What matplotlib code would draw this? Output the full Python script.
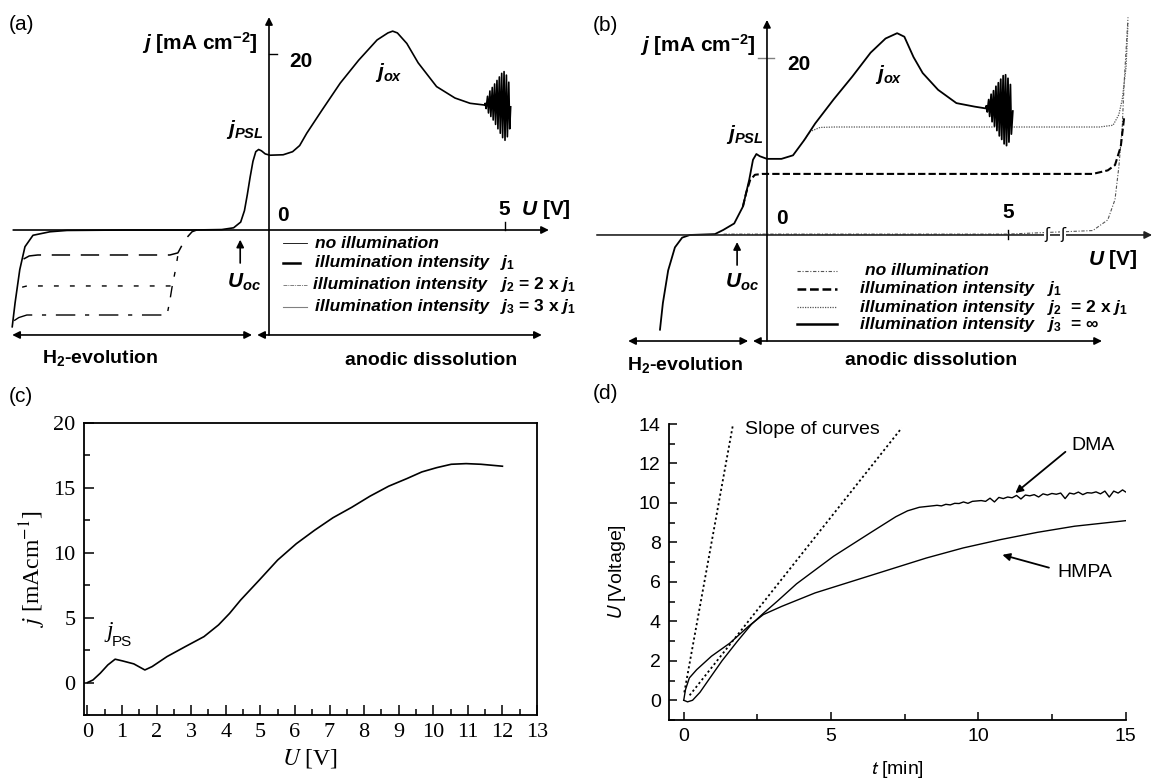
import matplotlib.pyplot as plt
from matplotlib.ticker import MultipleLocator

plt.rcParams['font.family'] = ['Liberation Sans', 'DejaVu Sans']
plt.rcParams['mathtext.fontset'] = 'custom'
plt.rcParams['mathtext.rm'] = 'Liberation Sans:bold'
plt.rcParams['mathtext.it'] = 'Liberation Sans:italic:bold'
plt.rcParams['mathtext.bf'] = 'Liberation Sans:bold'

# ---- (a) schematic j-U curves, dark + illuminated ----
a_dark_u = [-5.44, -5.38, -5.28, -5.17, -5.0, -4.64, -4.28, -3.0, -1.6, -1.0, -0.75, -0.6, -0.52,
            -0.46, -0.4, -0.34, -0.28, -0.22, -0.16, -0.08, 0.02, 0.3, 0.5, 0.65, 0.8, 1.12, 1.51,
            1.9, 2.29, 2.52, 2.62, 2.72, 2.92, 3.16, 3.55, 3.94, 4.26, 4.57]
a_dark_j = [-11.0, -8.3, -4.5, -1.9, -0.6, -0.2, -0.05, 0.0, 0.0, 0.05, 0.25, 0.9, 2.2,
            4.0, 6.0, 7.8, 8.9, 9.15, 9.0, 8.65, 8.5, 8.55, 8.9, 9.6, 11.0, 13.6, 16.7,
            19.3, 21.6, 22.4, 22.6, 22.4, 21.2, 19.0, 16.3, 15.0, 14.4, 14.2]
a_osc_u = [4.58, 4.60, 4.63, 4.65, 4.68, 4.70, 4.73, 4.75, 4.78, 4.80, 4.83, 4.85, 4.88, 4.90,
           4.93, 4.95, 4.98, 5.00, 5.03, 5.05, 5.08, 5.10, 5.12]
a_osc_j = [14.4, 13.8, 15.2, 13.3, 15.8, 12.9, 16.2, 12.5, 16.6, 12.0, 17.0, 11.5, 17.4, 11.0,
           17.8, 10.5, 18.0, 10.2, 17.6, 10.6, 16.8, 11.5, 14.0]
a_j1_u = [-5.2, -5.08, -4.9, -3.5, -2.1, -1.93, -1.78, -1.63, -1.53]
a_j1_j = [-3.3, -2.95, -2.84, -2.84, -2.84, -2.6, -1.1, -0.2, 0.0]
a_j2_u = [-5.23, -5.13, -3.5, -2.05, -1.98, -1.93]
a_j2_j = [-6.5, -6.36, -6.36, -6.36, -4.5, -2.84]
a_j3_u = [-5.4, -5.3, -5.13, -3.5, -2.16, -2.1, -2.05]
a_j3_j = [-10.3, -9.95, -9.66, -9.66, -9.66, -8.0, -6.36]

# ---- (b) ----
b_main_u = [-2.22, -2.16, -2.05, -1.91, -1.76, -1.6, -1.08, -0.91, -0.68, -0.5, -0.37, -0.29,
            -0.22, -0.15, 0.0, 0.3, 0.54, 0.77, 1.0, 1.38, 1.77, 2.15, 2.46, 2.7, 2.85, 3.04,
            3.23, 3.55, 3.93, 4.31, 4.54]
b_main_j = [-10.7, -7.7, -4.0, -1.4, -0.3, 0.0, 0.1, 0.56, 1.3, 3.2, 6.2, 8.5,
            9.15, 8.9, 8.6, 8.6, 9.0, 10.7, 12.6, 15.3, 17.9, 20.6, 22.2, 22.8, 22.4, 20.1,
            18.3, 16.4, 14.9, 14.5, 14.3]
b_osc_u = [4.55, 4.57, 4.60, 4.62, 4.65, 4.67, 4.70, 4.72, 4.75, 4.77, 4.80, 4.82, 4.85, 4.87,
           4.90, 4.92, 4.95, 4.97, 5.00, 5.02, 5.05, 5.07, 5.10]
b_osc_j = [14.6, 13.9, 15.3, 13.4, 15.9, 12.8, 16.3, 12.3, 16.8, 11.8, 17.2, 11.2, 17.6, 10.8,
           18.0, 10.3, 18.1, 10.1, 17.7, 10.5, 17.0, 11.4, 14.0]
b_j1_u = [-0.5, -0.43, -0.35, -0.25, -0.1, 1.0, 3.0, 5.0, 6.76, 7.07, 7.22, 7.34, 7.41]
b_j1_j = [3.2, 4.8, 6.2, 6.8, 6.9, 6.9, 6.9, 6.9, 6.9, 7.3, 7.9, 10.0, 13.3]
b_j2_u = [0.77, 0.9, 1.1, 1.4, 3.0, 5.0, 6.9, 7.18, 7.3, 7.37, 7.45, 7.49]
b_j2_j = [10.7, 11.7, 12.15, 12.2, 12.2, 12.2, 12.2, 12.4, 13.6, 15.3, 19.0, 24.0]
b_dark_u = [-0.9, 1.0, 3.0, 5.0, 6.76, 7.07, 7.22, 7.3, 7.37, 7.41, 7.49]
b_dark_j = [0.1, 0.1, 0.1, 0.1, 0.5, 1.7, 4.0, 7.7, 12.2, 17.2, 24.6]

# ---- (c) ----
c_u = [0.0, 0.16, 0.37, 0.59, 0.8, 1.01, 1.34, 1.66, 1.87, 2.3, 2.83, 3.37, 3.79, 4.11, 4.43,
       4.97, 5.5, 6.04, 6.57, 7.1, 7.64, 8.17, 8.71, 9.24, 9.67, 10.1, 10.52, 10.95, 11.38, 12.0]
c_j = [0.0, 0.2, 0.72, 1.36, 1.8, 1.67, 1.44, 0.97, 1.23, 2.0, 2.77, 3.54, 4.44, 5.33, 6.36,
       7.9, 9.44, 10.7, 11.74, 12.7, 13.5, 14.36, 15.13, 15.72, 16.23, 16.56, 16.82, 16.87, 16.82, 16.67]

# ---- (d) ----
dma_t = [0.0, 0.13, 0.3, 0.55, 0.9, 1.3, 1.8, 2.3, 2.7, 3.2, 3.83, 5.09, 6.35, 7.2, 7.6, 8.0, 8.49,
         8.6, 8.75, 8.9, 9.05, 9.2, 9.35, 9.5, 9.65, 9.8, 9.95, 10.1, 10.25, 10.4, 10.55, 10.7,
         10.85, 11.0, 11.15, 11.3, 11.45, 11.6, 11.75, 11.9, 12.05, 12.2, 12.35, 12.5, 12.65,
         12.8, 12.95, 13.1, 13.25, 13.4, 13.55, 13.7, 13.85, 14.0, 14.15, 14.3, 14.45, 14.6,
         14.75, 14.9, 15.0]
dma_u = [0.0, -0.08, 0.0, 0.4, 1.15, 2.0, 2.95, 3.85, 4.4, 5.05, 5.9, 7.3, 8.5, 9.3, 9.6, 9.78, 9.86,
         9.88, 9.85, 9.93, 9.9, 9.98, 9.97, 10.05, 9.98, 10.08, 10.1, 10.12, 10.08, 10.24, 10.05,
         10.28, 10.22, 10.3, 10.26, 10.38, 10.2, 10.4, 10.36, 10.42, 10.3, 10.46, 10.4, 10.48,
         10.44, 10.5, 10.22, 10.5, 10.45, 10.55, 10.42, 10.52, 10.5, 10.56, 10.46, 10.6, 10.3,
         10.6, 10.5, 10.66, 10.56]
hmpa_t = [0.0, 0.06, 0.19, 0.44, 0.94, 1.57, 2.2, 2.7, 3.33, 4.46, 5.72, 6.98, 8.24, 9.49,
          10.75, 12.01, 13.27, 15.0]
hmpa_u = [0.0, 0.54, 1.13, 1.55, 2.23, 2.9, 3.75, 4.34, 4.76, 5.44, 6.03, 6.62, 7.21, 7.72,
          8.14, 8.51, 8.82, 9.1]
slope1_t = [0.02, 1.7]
slope1_u = [0.4, 14.2]
slope2_t = [0.2, 7.4]
slope2_u = [0.25, 13.8]

W, H = 1155, 778
fig = plt.figure(figsize=(W / 100, H / 100), dpi=100)


def rect(l, t, r, b):
    return [l / W, 1 - b / H, (r - l) / W, (b - t) / H]


def arrow(ax, start, end, style='-|>', lw=1.2, color='black'):
    ax.annotate('', xy=end, xytext=start,
                arrowprops=dict(arrowstyle=style, color=color, lw=lw, mutation_scale=11,
                                shrinkA=0, shrinkB=0))


bold = dict(fontweight='bold')
legi = dict(fontweight='bold', fontstyle='italic', fontsize=12.5, va='center')

# ================= (a) =================
axA = fig.add_axes(rect(0, 0, 575, 378))
axA.set_xlim(-5.699, 6.483)
axA.set_ylim(-16.82, 26.14)
axA.axis('off')

axA.plot(a_dark_u + a_osc_u, a_dark_j + a_osc_j, color='black', lw=1.2)
axA.plot(a_j1_u, a_j1_j, color='black', lw=1.1, dashes=(12, 7))
axA.plot(a_j2_u, a_j2_j, color='black', lw=1.0, dashes=(3.5, 8))
axA.plot(a_j3_u, a_j3_j, color='black', lw=1.0, dashes=(14, 7, 3, 7))

arrow(axA, (-5.42, 0), (5.93, 0))
arrow(axA, (0, -11.93), (0, 24.2))
axA.plot([0, 0.17], [20, 20], color='black', lw=1)
axA.plot([5, 5], [0, 0.9], color='black', lw=1)

axA.text(-5.51, 23.3, '(a)', fontsize=15, va='center')
axA.text(-0.25, 21.25, r'$j$ [mA cm$^{-2}$]', fontsize=15, ha='right', va='center', **bold)
axA.text(0.68, 19.1, '20', fontsize=15, ha='center', va='center', **bold)
axA.text(2.54, 17.9, r'$j_{ox}$', fontsize=15, ha='center', va='center')
axA.text(-0.51, 11.4, r'$j_{PSL}$', fontsize=15, ha='center', va='center')
axA.text(0.3, 1.7, '0', fontsize=15, ha='center', va='center', **bold)
axA.text(4.85, 2.3, r'5  $U$ [V]', fontsize=15, ha='left', va='center', **bold)
arrow(axA, (-0.61, -3.75), (-0.61, -1.1), lw=1.2)
axA.text(-0.53, -6.0, r'$U_{oc}$', fontsize=15, ha='center', va='center')

rows_a = [-1.48, -3.75, -6.25, -8.75]
axA.plot([0.30, 0.80], [rows_a[0]] * 2, color='black', lw=0.6)
axA.plot([0.30, 0.66], [rows_a[1]] * 2, color='black', lw=1.8)
axA.plot([0.30, 0.80], [rows_a[2]] * 2, color='gray', lw=0.7, dashes=(4, 1, 1, 1))
axA.plot([0.30, 0.80], [rows_a[3]] * 2, color='gray', lw=0.8)
axA.text(0.97, rows_a[0], 'no illumination', **legi)
axA.text(0.97, rows_a[1], 'illumination intensity', **legi)
axA.text(0.93, rows_a[2], 'illumination intensity', **legi)
axA.text(0.97, rows_a[3], 'illumination intensity', **legi)
axA.text(4.9, rows_a[1], r'$j_1$', fontsize=12.5, va='center')
axA.text(4.9, rows_a[2], r'$j_2$ = 2 x $j_1$', fontsize=12.5, va='center', **bold)
axA.text(4.9, rows_a[3], r'$j_3$ = 3 x $j_1$', fontsize=12.5, va='center', **bold)

arrow(axA, (-5.44, -11.93), (-0.36, -11.93), style='<|-|>')
arrow(axA, (-0.25, -11.93), (5.78, -11.93), style='<|-|>')
axA.text(-3.58, -14.5, r'H$_2$-evolution', fontsize=14, ha='center', va='center', **bold)
axA.text(3.43, -14.8, 'anodic dissolution', fontsize=14, ha='center', va='center', **bold)

# ================= (b) =================
axB = fig.add_axes(rect(575, 0, 1155, 378))
axB.set_xlim(-3.983, 8.050)
axB.set_ylim(-16.16, 26.55)
axB.axis('off')

arrow(axB, (-3.53, 0), (7.99, 0), color='#222222')
arrow(axB, (0, -11.98), (0, 24.3))
axB.plot([-0.19, 0.15], [20, 20], color='gray', lw=1)
axB.plot([5, 5], [-0.45, 0.6], color='black', lw=1)
for xb in [5.81, 6.14]:
    axB.text(xb, 0, 'ʃ', fontsize=11, ha='center', va='center', family='DejaVu Sans',
             bbox=dict(facecolor='white', edgecolor='none', pad=0.2))

axB.plot(b_dark_u, b_dark_j, color='#555555', lw=0.8, dashes=(3, 1.5, 1, 1.5))
axB.plot(b_j2_u, b_j2_j, color='#555555', lw=0.9, dashes=(1, 1))
axB.plot(b_j1_u, b_j1_j, color='black', lw=1.5, dashes=(3.5, 1.5))
axB.plot(b_main_u + b_osc_u, b_main_j + b_osc_j, color='black', lw=1.3)

axB.text(-3.61, 23.7, '(b)', fontsize=15, va='center')
axB.text(-0.23, 21.5, r'$j$ [mA cm$^{-2}$]', fontsize=15, ha='right', va='center', **bold)
axB.text(0.66, 19.3, '20', fontsize=15, ha='center', va='center', **bold)
axB.text(2.53, 18.1, r'$j_{ox}$', fontsize=15, ha='center', va='center')
axB.text(-0.46, 11.3, r'$j_{PSL}$', fontsize=15, ha='center', va='center')
axB.text(0.31, 1.9, '0', fontsize=15, ha='center', va='center', **bold)
axB.text(5.0, 2.5, '5', fontsize=15, ha='center', va='center', **bold)
axB.text(7.18, -2.8, r'$U$ [V]', fontsize=15, ha='center', va='center', **bold)
arrow(axB, (-0.62, -3.4), (-0.62, -0.8), lw=1.2)
axB.text(-0.52, -5.4, r'$U_{oc}$', fontsize=15, ha='center', va='center')

rows_b = [-4.07, -6.1, -8.14, -10.06]
axB.plot([0.62, 1.45], [rows_b[0]] * 2, color='#555555', lw=0.8, dashes=(3, 1.5, 1, 1.5))
axB.plot([0.62, 1.45], [rows_b[1]] * 2, color='black', lw=1.8, dashes=(3.5, 1.5))
axB.plot([0.62, 1.45], [rows_b[2]] * 2, color='#555555', lw=0.9, dashes=(1, 1))
axB.plot([0.62, 1.45], [rows_b[3]] * 2, color='black', lw=1.8)
axB.text(2.03, rows_b[0], 'no illumination', **legi)
for r in rows_b[1:]:
    axB.text(1.93, r, 'illumination intensity', **legi)
axB.text(5.8, rows_b[1], r'$j_1$', fontsize=12.5, va='center')
axB.text(5.8, rows_b[2], r'$j_2$  = 2 x $j_1$', fontsize=12.5, va='center', **bold)
axB.text(5.8, rows_b[3], r'$j_3$  = $\infty$', fontsize=12.5, va='center', **bold)

arrow(axB, (-2.88, -11.98), (-0.39, -11.98), style='<|-|>')
arrow(axB, (-0.29, -11.98), (6.95, -11.98), style='<|-|>')
axB.text(-1.7, -14.7, r'H$_2$-evolution', fontsize=14, ha='center', va='center', **bold)
axB.text(3.4, -14.2, 'anodic dissolution', fontsize=14, ha='center', va='center', **bold)

# ================= (c) =================
axC = fig.add_axes(rect(84, 423, 537, 715))
axC.plot(c_u, c_j, color='black', lw=1.2)
axC.set_xlim(-0.1, 13)
axC.set_ylim(-2.5, 20)
axC.set_xticks(range(0, 14))
axC.set_yticks([0, 5, 10, 15, 20])
axC.xaxis.set_minor_locator(MultipleLocator(0.5))
axC.yaxis.set_minor_locator(MultipleLocator(2.5))
axC.tick_params(which='both', direction='in', top=False, right=False, width=1.1,
                labelsize=16, labelfontfamily='Liberation Serif', pad=6)
axC.tick_params(which='major', length=7)
axC.tick_params(which='minor', length=4)
for s in axC.spines.values():
    s.set_linewidth(1.3)
axC.set_xlabel(r'$U$ [V]', fontsize=17, family='Liberation Serif', math_fontfamily='stix', labelpad=3)
axC.set_ylabel(r'$j$ [mAcm$^{-1}$]', fontsize=17, family='Liberation Serif', math_fontfamily='stix',
               labelpad=4)
axC.text(0.66, 3.9, 'j', fontsize=17, family='Liberation Serif', style='italic',
         ha='center', va='center')
axC.text(1.0, 3.1, 'PS', fontsize=11, ha='center', va='center')
fig.text(9 / W, 1 - 397 / H, '(c)', fontsize=15, va='center')

# ================= (d) =================
axD = fig.add_axes(rect(669, 424, 1125.5, 720))
axD.plot(slope1_t, slope1_u, color='black', lw=1.3, dashes=(1.2, 1.5))
axD.plot(slope2_t, slope2_u, color='black', lw=1.3, dashes=(1.2, 1.5))
axD.plot(dma_t, dma_u, color='black', lw=1.0)
axD.plot(hmpa_t, hmpa_u, color='black', lw=1.0)
axD.set_xlim(-0.5, 15)
axD.set_ylim(-1, 14)
axD.spines['top'].set_visible(False)
axD.spines['right'].set_visible(False)
for s in ['left', 'bottom']:
    axD.spines[s].set_linewidth(1.3)
axD.set_xticks([0, 5, 10, 15])
axD.set_yticks(range(0, 15, 2))
axD.xaxis.set_minor_locator(MultipleLocator(2.5))
axD.yaxis.set_minor_locator(MultipleLocator(1))
axD.tick_params(which='both', direction='in', width=1.1, labelsize=14, pad=6)
axD.tick_params(which='major', length=6)
axD.tick_params(which='minor', length=4)
axD.set_xlabel(r'$t$ [min]', fontsize=14, math_fontfamily='stixsans', labelpad=10)
axD.set_ylabel(r'$U$ [Voltage]', fontsize=14, math_fontfamily='stixsans', labelpad=8)
axD.text(2.07, 13.7, 'Slope of curves', fontsize=14, ha='left', va='center')
axD.text(13.91, 12.93, 'DMA', fontsize=14, ha='center', va='center')
axD.text(13.62, 6.48, 'HMPA', fontsize=14, ha='center', va='center')
arrow(axD, (12.96, 12.59), (11.26, 10.5), lw=1.3)
arrow(axD, (12.4, 6.72), (10.82, 7.37), lw=1.3)
fig.text(593 / W, 1 - 393 / H, '(d)', fontsize=15, va='center')

fig.savefig('out.png', dpi=100)
